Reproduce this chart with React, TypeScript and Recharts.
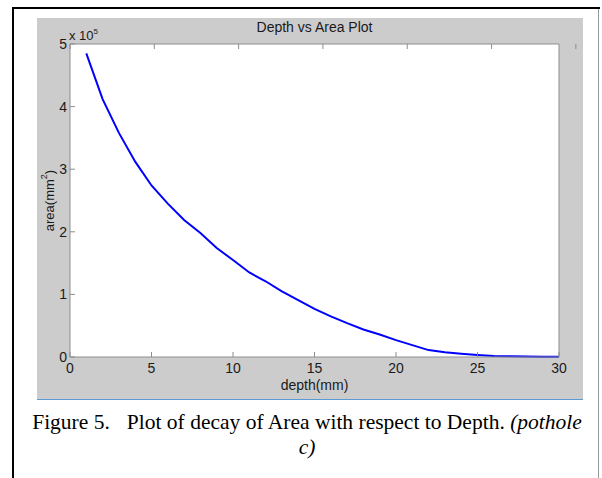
import { LineChart, Line, XAxis, YAxis, CartesianGrid } from 'recharts';

// depth (mm) and the matching area (mm^2) of pothole c
const depthMm = [1, 2, 3, 4, 5, 6, 7, 8, 9, 10, 11, 12, 13, 14, 15, 16, 17, 18, 19, 20, 21, 22, 23, 24, 25, 26, 27, 28, 29, 30];
const areaMm2 = [
  485000, 412000, 358000, 312000, 274000, 245000, 219000, 198000, 174000, 155000,
  135000, 121000, 105000, 91000, 77000, 65000, 54000, 44000, 36000, 27000,
  19000, 11000, 7500, 5000, 3000, 1500, 1000, 800, 500, 300,
];
const depthTicks = [0, 5, 10, 15, 20, 25, 30];
const areaTicks = [0, 100000, 200000, 300000, 400000, 500000];

const rows = depthMm.map((d, i) => ({ depth: d, area: areaMm2[i] }));

const SANS = '"Liberation Sans", Arial, sans-serif';
const BOX = '#8e8e8e';
const tickFont = { fill: '#1a1a1a', fontSize: 14, fontFamily: SANS };
const noLabel = () => <g />;

function AreaLabel(props: any) {
  const vb = props.viewBox || {};
  const x = vb.x + 12;
  const y = vb.y + vb.height / 2;
  return (
    <text x={x} y={y} transform={`rotate(-90 ${x} ${y})`} textAnchor="middle" dominantBaseline="central"
      fill="#1a1a1a" fontSize={13} fontFamily={SANS}>
      area(mm<tspan fontSize={9} dy={-5}>2</tspan><tspan dy={5}>)</tspan>
    </text>
  );
}

export default function App() {
  return (
    <div style={{ position: 'absolute', left: 0, top: 0, width: 602, height: 478, background: '#fff', overflow: 'hidden' }}>
      {/* page frame */}
      <div style={{ position: 'absolute', left: 12, top: 7, width: 588, height: 2, background: '#000' }} />
      <div style={{ position: 'absolute', left: 12, top: 7, width: 2, height: 471, background: '#000' }} />
      <div style={{ position: 'absolute', left: 598, top: 9, width: 1, height: 469, background: '#9a9a9a' }} />

      {/* figure window */}
      <div style={{ position: 'absolute', left: 37, top: 18, width: 546, height: 382, background: '#cccccc' }}>
        <div style={{ position: 'absolute', left: 0, right: 0, top: 1, textAlign: 'center', paddingLeft: 9,
          fontFamily: SANS, fontSize: 14, color: '#1a1a1a' }}>
          Depth vs Area Plot
        </div>
        <div style={{ position: 'absolute', left: 32, top: 10, fontFamily: SANS, fontSize: 13, color: '#1a1a1a' }}>
          x 10<span style={{ fontSize: 8, position: 'relative', top: -6 }}>5</span>
        </div>
        {/* negative tick sizes turn the tick marks inward, like a boxed plot */}
        <LineChart width={546} height={382} data={rows} margin={{ top: 25, right: 0, bottom: 0, left: 0 }}>
          <CartesianGrid fill="#ffffff" stroke="none" />
          <XAxis xAxisId={0} dataKey="depth" type="number" domain={[0, 30]} ticks={depthTicks}
            height={43} tickLine={{ stroke: BOX }} tickSize={-5} tickMargin={11} axisLine={{ stroke: BOX }} tick={tickFont}
            label={{ value: 'depth(mm)', position: 'insideBottom', offset: 10, fill: '#1a1a1a', fontSize: 14, fontFamily: SANS }} />
          <XAxis xAxisId="top" orientation="top" type="number" domain={[0, 30]} ticks={depthTicks} height={1}
            tick={noLabel} axisLine={{ stroke: BOX }} tickLine={{ stroke: BOX }} tickSize={-5} />
          <YAxis yAxisId={0} type="number" domain={[0, 500000]} ticks={areaTicks} width={33}
            tickFormatter={(v: number) => String(v / 100000)} tickLine={{ stroke: BOX }} tickSize={-5} tickMargin={8}
            axisLine={{ stroke: BOX }} tick={tickFont} label={<AreaLabel />} />
          <YAxis yAxisId="right" orientation="right" type="number" domain={[0, 500000]} ticks={areaTicks} width={24}
            tick={noLabel} axisLine={{ stroke: BOX }} tickLine={{ stroke: BOX }} tickSize={-5} />
          <Line xAxisId={0} yAxisId={0} type="linear" dataKey="area" stroke="#0000ff" strokeWidth={2}
            dot={false} isAnimationActive={false} />
        </LineChart>
        <div style={{ position: 'absolute', left: 0, right: 0, bottom: 0, height: 1, background: '#5b9bd5' }} />
      </div>

      {/* caption */}
      <div style={{ position: 'absolute', left: 22, width: 570, top: 410, textAlign: 'center',
        fontFamily: '"Liberation Serif", "Times New Roman", serif', fontSize: 21.5, lineHeight: '25px', color: '#000' }}>
        Figure 5.<span style={{ display: 'inline-block', width: 17 }} />Plot of decay of Area with respect to Depth. <i>(pothole</i>
        <br />
        <i>c)</i>
      </div>
    </div>
  );
}
